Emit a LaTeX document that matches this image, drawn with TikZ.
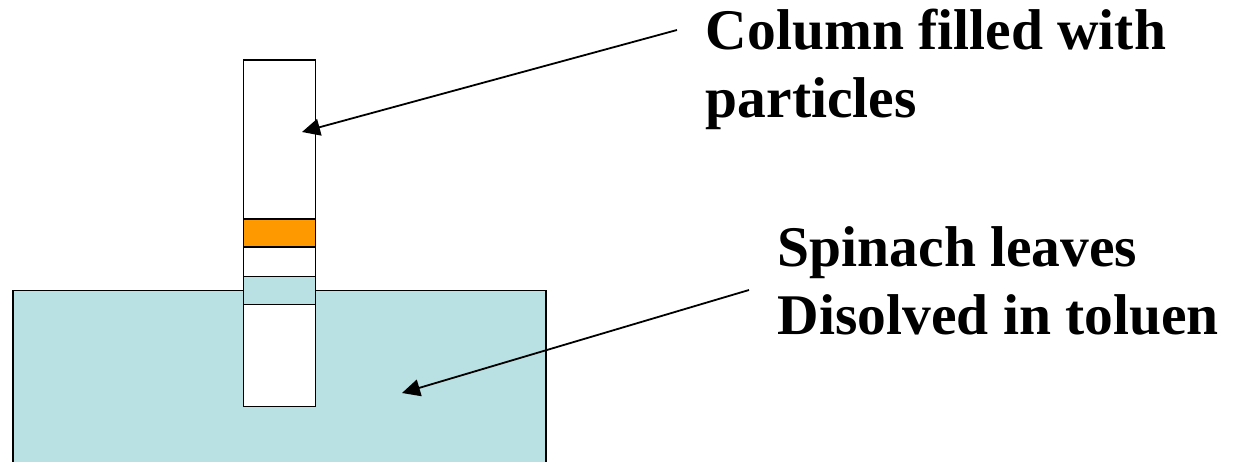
\documentclass[tikz,border=0pt]{standalone}
\usepackage{fontspec}
\setmainfont{Liberation Serif}
\usetikzlibrary{arrows.meta, positioning}
\begin{document}
\begin{tikzpicture}[
        x=1pt, y=-1pt,
        line width=1.8pt,
        column/.style={draw, fill=white, anchor=north west, minimum width=72pt, inner sep=0pt},
        caption/.style={font=\bfseries\fontsize{57.5}{68}\selectfont, align=left, anchor=north west, inner sep=0pt},
        >={Triangle[length=18pt, width=17pt]}
    ]
    \useasboundingbox (0,0) rectangle (1233,462);
    \definecolor{liquidblue}{RGB}{185,224,226}
    \definecolor{bandorange}{RGB}{255,153,0}

    % ---- solvent ----
    \path[draw, fill=liquidblue] (13,463) -- (13,290.5) -- (546,290.5) -- (546,463);

    % ---- column and bands ----
    \node[column, minimum height=346pt] (tube) at (242.5,59.5) {};
    \node[column, minimum height=28pt, fill=bandorange] (band1) at (242.5,218.5) {};
    \node[column, minimum height=28pt, fill=liquidblue] (band2) at (242.5,275.5) {};

    % ---- labels ----
    \node[caption] (lab1) at (705,8) {Column filled with\\particles};
    \node[caption] (lab2) at (777,226) {Spinach leaves\\Disolved in toluen};

    % ---- arrow ends ----
    \coordinate (from1) at (677,30);
    \coordinate (to1) at (302,132);
    \coordinate (from2) at (749,290);
    \coordinate (to2) at (402,393);
    \draw[->] (from1) -- (to1);
    \draw[->] (from2) -- (to2);
\end{tikzpicture}
\end{document}
